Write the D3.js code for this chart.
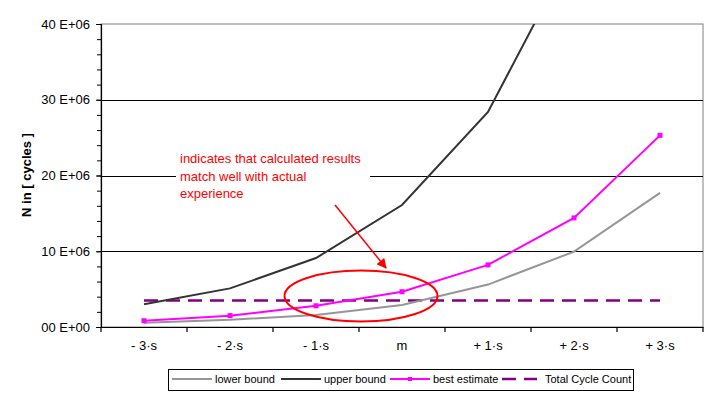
<!DOCTYPE html>
<html>
<head>
<meta charset="utf-8">
<script src="https://cdn.jsdelivr.net/npm/d3@7"></script>
<style>
  body { margin: 0; background: #fff; }
  text { font-family: "Liberation Sans", Arial, sans-serif; }
</style>
</head>
<body>
<div id="chart"></div>
<script>
// categories (sigma positions)
const categories = ["- 3·s", "- 2·s", "- 1·s", "m", "+ 1·s", "+ 2·s", "+ 3·s"];

// series values, in cycles
const lowerBound   = [0.57e6, 0.95e6, 1.6e6, 2.9e6, 5.6e6, 9.95e6, 17.7e6];
const upperBound   = [3.0e6, 5.1e6, 9.1e6, 16.1e6, 28.4e6, 50.0e6, 85.0e6];
const bestEstimate = [0.83e6, 1.5e6, 2.8e6, 4.66e6, 8.2e6, 14.4e6, 25.3e6];
const totalCycles  = [3.5e6, 3.5e6, 3.5e6, 3.5e6, 3.5e6, 3.5e6, 3.5e6];

const yTicks = [0, 10e6, 20e6, 30e6, 40e6];
const yTickLabels = ["00 E+00", "10 E+06", "20 E+06", "30 E+06", "40 E+06"];

const W = 715, H = 398;
const margin = {top: 24, right: 12, bottom: 71, left: 101};
const width = W - margin.left - margin.right;
const height = H - margin.top - margin.bottom;

const svg = d3.select("#chart").append("svg")
    .attr("width", W)
    .attr("height", H);

const g = svg.append("g")
    .attr("transform", "translate(" + margin.left + "," + margin.top + ")");

const x = d3.scaleBand().domain(categories).range([0, width]);
const y = d3.scaleLinear().domain([0, 40e6]).range([height, 0]);
const cx = d => x(d) + x.bandwidth() / 2;

g.append("clipPath").attr("id", "clip")
  .append("rect").attr("width", width).attr("height", height);

// plot area border (grey top / right)
g.append("rect")
    .attr("width", width).attr("height", height)
    .attr("fill", "none").attr("stroke", "#808080").attr("stroke-width", 1);

// gridlines
g.selectAll("line.grid").data(yTicks.slice(1, -1)).enter().append("line")
    .attr("class", "grid")
    .attr("x1", 0).attr("x2", width)
    .attr("y1", d => Math.round(y(d)) + 0.5).attr("y2", d => Math.round(y(d)) + 0.5)
    .attr("stroke", "#000").attr("stroke-width", 1.2);

// y axis
const yAxis = d3.axisLeft(y).tickValues(yTicks).tickSize(5).tickPadding(6)
    .tickFormat((d, i) => yTickLabels[i]);
const ya = g.append("g").call(yAxis);
ya.select(".domain").attr("stroke", "#000").attr("stroke-width", 1.2);
ya.selectAll("text").attr("font-size", 13).attr("fill", "#000")
    .style("font-family", "'Liberation Sans', Arial, sans-serif");
// minor ticks
const yMinor = d3.axisLeft(y).tickValues(d3.range(0, 40e6 + 1, 2e6)).tickSize(4).tickFormat("");
const ym = g.append("g").call(yMinor);
ym.select(".domain").remove();

// x axis
const xAxis = d3.axisBottom(x).tickSize(0).tickPadding(14);
const xa = g.append("g").attr("transform", "translate(0," + height + ")").call(xAxis);
xa.select(".domain").attr("stroke", "#000").attr("stroke-width", 1.2);
xa.selectAll("text").attr("font-size", 13).attr("fill", "#000")
    .style("font-family", "'Liberation Sans', Arial, sans-serif");
// x tick marks between categories
xa.selectAll("line.sep").data(d3.range(categories.length + 1)).enter().append("line")
    .attr("class", "sep")
    .attr("x1", i => i * x.step()).attr("x2", i => i * x.step())
    .attr("y1", 0).attr("y2", 5)
    .attr("stroke", "#000").attr("stroke-width", 1.2);

// y axis title
svg.append("text")
    .attr("transform", "translate(31,175) rotate(-90)")
    .attr("text-anchor", "middle")
    .attr("font-size", 13).attr("font-weight", "bold")
    .text("N in [ cycles ]");

// annotation text with white background
const note = ["indicates that calculated results", "match well with actual", "experience"];
g.append("rect").attr("x", 75).attr("y", 126).attr("width", 194).attr("height", 52).attr("fill", "#fff");
g.append("g").selectAll("text").data(note).enter().append("text")
    .attr("x", 79).attr("y", (d, i) => 139 + i * 17.5)
    .attr("font-size", 13).attr("fill", "#ff0000")
    .text(d => d);

const line = d3.line().x((d, i) => cx(categories[i])).y(d => y(d));
const lines = g.append("g").attr("clip-path", "url(#clip)");

lines.append("path").datum(totalCycles).attr("d", line)
    .attr("fill", "none").attr("stroke", "#800080").attr("stroke-width", 2.5)
    .attr("stroke-dasharray", "14,8");
lines.append("path").datum(lowerBound).attr("d", line)
    .attr("fill", "none").attr("stroke", "#969696").attr("stroke-width", 2);
lines.append("path").datum(upperBound).attr("d", line)
    .attr("fill", "none").attr("stroke", "#333333").attr("stroke-width", 2);
lines.append("path").datum(bestEstimate).attr("d", line)
    .attr("fill", "none").attr("stroke", "#ff00ff").attr("stroke-width", 2);
lines.selectAll("rect.mk").data(bestEstimate).enter().append("rect")
    .attr("class", "mk")
    .attr("x", (d, i) => cx(categories[i]) - 2.5).attr("y", d => y(d) - 2.5)
    .attr("width", 5).attr("height", 5).attr("fill", "#ff00ff");

// red ellipse and arrow
g.append("ellipse").attr("cx", 260).attr("cy", 272).attr("rx", 76.5).attr("ry", 25.5)
    .attr("fill", "none").attr("stroke", "#ff0000").attr("stroke-width", 2);
svg.append("defs").append("marker")
    .attr("id", "arrow").attr("viewBox", "0 0 10 10").attr("refX", 9).attr("refY", 5)
    .attr("markerWidth", 11).attr("markerHeight", 10).attr("markerUnits", "userSpaceOnUse")
    .attr("orient", "auto")
  .append("path").attr("d", "M0,0 L10,5 L0,10 z").attr("fill", "#ff0000");
g.append("line").attr("x1", 234).attr("y1", 181).attr("x2", 285).attr("y2", 244)
    .attr("stroke", "#ff0000").attr("stroke-width", 1.5).attr("marker-end", "url(#arrow)");

// legend
const legend = svg.append("g");
legend.append("rect").attr("x", 168.5).attr("y", 369.5).attr("width", 465).attr("height", 21)
    .attr("fill", "#fff").attr("stroke", "#000").attr("stroke-width", 1);
const legItems = [
  {name: "lower bound", color: "#969696", x1: 172, x2: 212, tx: 215},
  {name: "upper bound", color: "#333333", x1: 281, x2: 321, tx: 324},
  {name: "best estimate", color: "#ff00ff", x1: 390, x2: 430, tx: 433, marker: true},
  {name: "Total Cycle Count", color: "#800080", x1: 502, x2: 537, tx: 545, dash: "14,8"}
];
legItems.forEach(it => {
  legend.append("line").attr("x1", it.x1).attr("x2", it.x2).attr("y1", 379).attr("y2", 379)
      .attr("stroke", it.color).attr("stroke-width", it.dash ? 2.5 : 2)
      .attr("stroke-dasharray", it.dash || null);
  if (it.marker) legend.append("rect").attr("x", (it.x1 + it.x2) / 2 - 2).attr("y", 377)
      .attr("width", 4).attr("height", 4).attr("fill", it.color);
  legend.append("text").attr("x", it.tx).attr("y", 383).attr("font-size", 11).text(it.name);
});
</script>
</body>
</html>
